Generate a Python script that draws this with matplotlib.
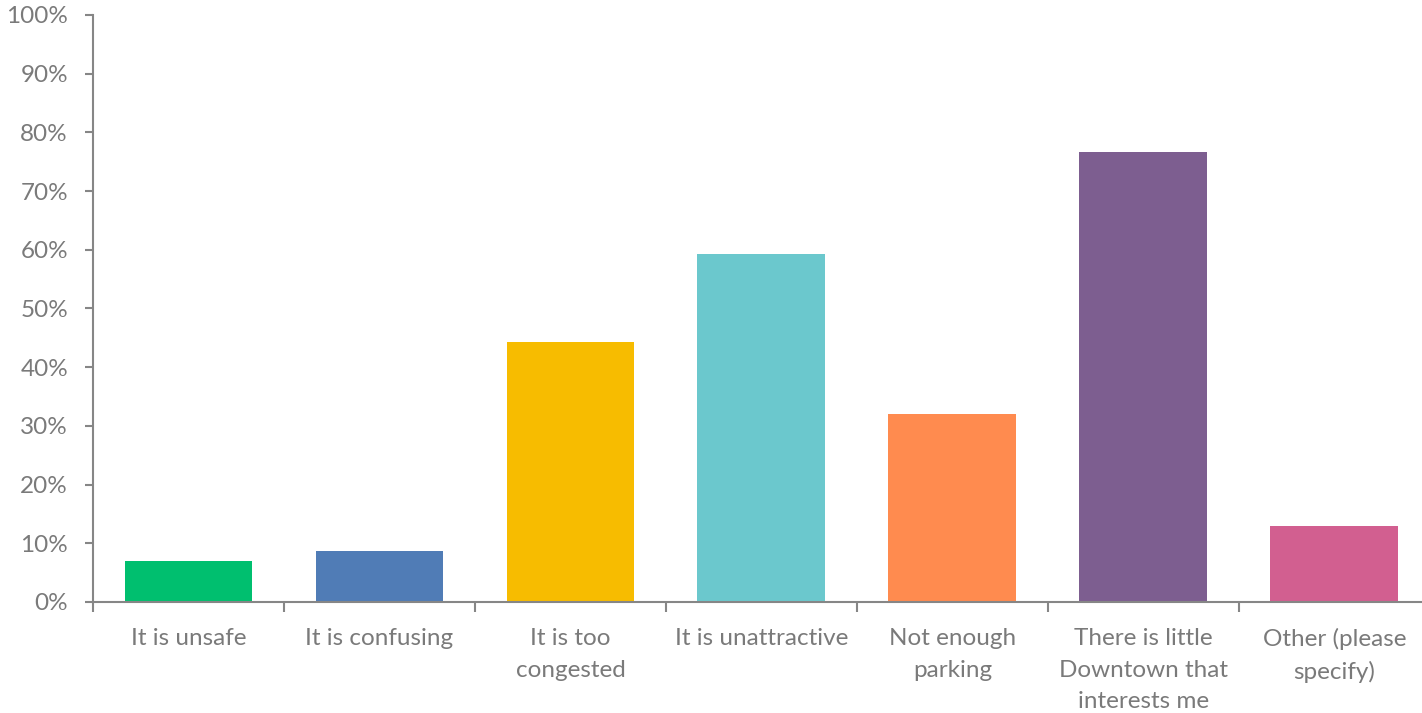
import matplotlib.pyplot as plt
import numpy as np
from matplotlib.ticker import PercentFormatter, FixedLocator

categories = ["It is unsafe", "It is confusing", "It is too\ncongested", "It is unattractive",
              "Not enough\nparking", "There is little\nDowntown that\ninterests me", "Other (please\nspecify)"]
values = [7.0, 8.7, 44.3, 59.3, 32.0, 76.7, 12.9]
colors = ["#00BF6F", "#507CB6", "#F7BC00", "#6BC8CD", "#FF8B4F", "#7D5E90", "#D25F90"]

plt.rcParams['font.family'] = ['Lato', 'DejaVu Sans']
grey = "#868686"
txt = "#7a7a7a"

fig = plt.figure(figsize=(14.22, 7.13), dpi=100)
ax = fig.add_axes([0.0654, 0.1557, 0.9402, 0.8233])

x = np.arange(len(categories))
ax.bar(x, values, width=0.67, color=colors)

ax.set_xlim(-0.5, len(categories) - 0.5)
ax.set_ylim(0, 100)
ax.yaxis.set_major_locator(FixedLocator(np.arange(0, 101, 10)))
ax.yaxis.set_major_formatter(PercentFormatter(decimals=0))

ax.set_xticks(x)
ax.set_xticklabels(categories, fontsize=17.5, color=txt, linespacing=1.6, va='top')
ax.xaxis.set_minor_locator(FixedLocator(np.arange(-0.5, len(categories), 1.0)))
ax.tick_params(axis='x', which='major', length=0, pad=19)
ax.tick_params(axis='x', which='minor', length=7, width=1.5, color=grey, direction='out')
ax.tick_params(axis='y', length=6, width=1.5, color=grey, labelsize=17.5, labelcolor=txt, pad=12)

for s in ['top', 'right']:
    ax.spines[s].set_visible(False)
for s in ['left', 'bottom']:
    ax.spines[s].set_color(grey)
    ax.spines[s].set_linewidth(1.5)

fig.savefig("out.png", dpi=100)
